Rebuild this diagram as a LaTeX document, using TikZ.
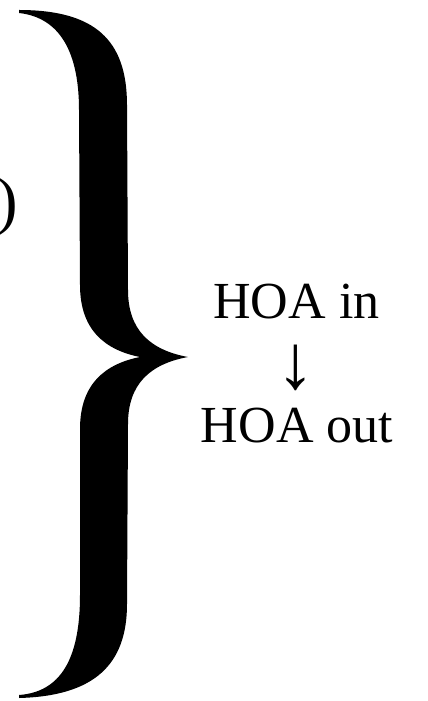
\documentclass[tikz,border=0pt]{standalone}
\usepackage{fontspec}
\setmainfont{Liberation Serif}
\tikzstyle{every node}=[font=\fontsize{37pt}{44pt}\selectfont, inner sep=0pt]

\begin{document}
\begin{tikzpicture}[x=0.025cm, y=-0.025cm]
		            % Okraje
		            \clip (0,0) rectangle (427,701);

		            % Složená závorka
		            \fill[black] (19,10) .. controls (95,10) and (127,40) .. (127,105)
		                -- (128,290) .. controls (128,330) and (150,350) .. (188,357)
		                .. controls (150,364) and (128,384) .. (128,424)
		                -- (127,604) .. controls (127,664) and (95,696) .. (19,698)
		                -- (19,695) .. controls (60,692) and (80,660) .. (80,595)
		                -- (80,429) .. controls (80,384) and (105,364) .. (140,357)
		                .. controls (105,350) and (80,330) .. (80,285)
		                -- (79,110) .. controls (79,45) and (55,17) .. (19,13) -- cycle;

		            % Useknutý popisek vlevo
		            \node[anchor=base east, font=\fontsize{46pt}{55pt}\selectfont] (zbytek) at (18,223) {b)};

		            % Popisky vpravo
		            \node[anchor=base] (hoain) at (296.5,318) {HOA in};
		            \node[anchor=base, font=\fontsize{55pt}{66pt}\selectfont] (sipka) at (296,388) {↓};
		            \node[anchor=base] (hoaout) at (297,442) {HOA out};
		        \end{tikzpicture}
\end{document}
